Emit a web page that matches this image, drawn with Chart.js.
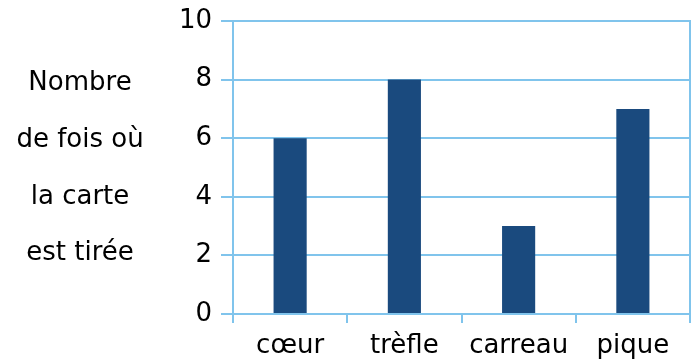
<!DOCTYPE html>
<html>
<head>
<meta charset="utf-8">
<script src="https://cdn.jsdelivr.net/npm/chart.js@4/dist/chart.umd.min.js"></script>
<style>
  html, body { margin: 0; padding: 0; background: #fff; }
  #wrap { width: 694px; height: 360px; }
</style>
</head>
<body>
<div id="wrap"><canvas id="c" width="694" height="360"></canvas></div>
<script>
// Tirage de cartes : nombre de fois où chaque couleur sort
const categories = ['cœur', 'trèfle', 'carreau', 'pique'];
const counts = [6, 8, 3, 7];
const yMin = 0;
const yMax = 10;
const yStep = 2;
const yTitleLines = ['Nombre', 'de fois où', 'la carte', 'est tirée'];

const FONT = '"DejaVu Sans", Verdana, sans-serif';
const FONT_SIZE = 26;
const GRID = 'rgb(128,196,236)';
const BAR = 'rgb(26,74,126)';

// Titre de l'axe vertical, écrit à l'horizontale sur plusieurs lignes
const yTitlePlugin = {
  id: 'yTitle',
  afterDraw(chart) {
    const ctx = chart.ctx;
    const area = chart.chartArea;
    const cx = chart.scales.y.left / 2;
    const cy = (area.top + area.bottom) / 2 + 1;
    const gap = 56.7;
    ctx.save();
    ctx.font = FONT_SIZE + 'px ' + FONT;
    ctx.fillStyle = '#000';
    ctx.textAlign = 'center';
    ctx.textBaseline = 'middle';
    const n = yTitleLines.length;
    yTitleLines.forEach((line, i) => {
      ctx.fillText(line, cx, cy + (i - (n - 1) / 2) * gap);
    });
    ctx.restore();
  }
};

// Bordure droite du cadre du graphique
const rightBorderPlugin = {
  id: 'rightBorder',
  beforeDatasetsDraw(chart) {
    const ctx = chart.ctx;
    const a = chart.chartArea;
    ctx.save();
    ctx.strokeStyle = GRID;
    ctx.lineWidth = 2;
    ctx.beginPath();
    ctx.moveTo(a.right, a.top - 1);
    ctx.lineTo(a.right, a.bottom);
    ctx.stroke();
    ctx.restore();
  }
};

new Chart(document.getElementById('c'), {
  type: 'bar',
  data: {
    labels: categories,
    datasets: [{
      data: counts,
      backgroundColor: BAR,
      borderWidth: 0,
      barPercentage: 0.29,
      categoryPercentage: 1.0
    }]
  },
  options: {
    responsive: false,
    animation: false,
    devicePixelRatio: 1,
    layout: { padding: { left: 160, top: 21, right: 4, bottom: 0 } },
    plugins: {
      legend: { display: false },
      tooltip: { enabled: false }
    },
    scales: {
      x: {
        afterFit(scale) { scale.height = 46; },
        grid: {
          offset: true,
          drawOnChartArea: false,
          drawTicks: true,
          tickLength: 9,
          color: GRID,
          lineWidth: 2
        },
        border: { display: true, color: GRID, width: 2 },
        ticks: {
          color: '#000',
          font: { family: FONT, size: FONT_SIZE },
          padding: 8,
          maxRotation: 0
        }
      },
      y: {
        min: yMin,
        max: yMax,
        afterFit(scale) {
          scale.width = 73;
          scale.paddingTop = 0;
          scale.paddingBottom = 0;
        },
        grid: {
          color: GRID,
          lineWidth: 2,
          tickLength: 12
        },
        border: { display: true, color: GRID, width: 2 },
        ticks: {
          stepSize: yStep,
          color: '#000',
          font: { family: FONT, size: FONT_SIZE },
          padding: 9
        }
      }
    }
  },
  plugins: [yTitlePlugin, rightBorderPlugin]
});
</script>
</body>
</html>
